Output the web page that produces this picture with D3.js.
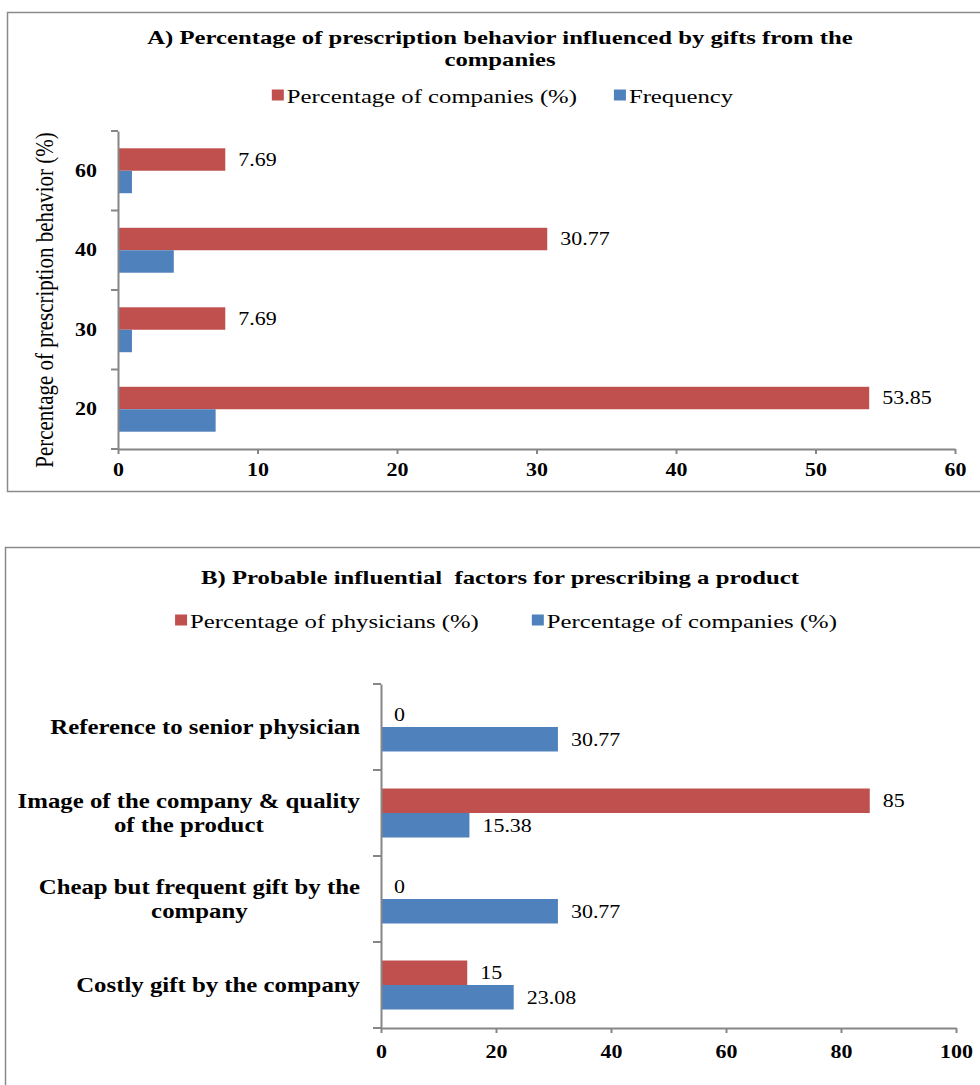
<!DOCTYPE html>
<html>
<head>
<meta charset="utf-8">
<script src="https://cdn.jsdelivr.net/npm/d3@7"></script>
<style>
  body { margin: 0; background: #fff; }
  text { font-family: "Liberation Serif", "Times New Roman", serif; fill: #000; }
</style>
</head>
<body>
<div id="container"></div>
<script>
/* DATA */
// panel A
const behaviorCats = ["60", "40", "30", "20"];
const companiesPctA = [7.69, 30.77, 7.69, 53.85];
const frequencyA = [1, 4, 1, 7];
const xTicksA = [0, 10, 20, 30, 40, 50, 60];
// panel B
const factorLines = [
  ["Reference to senior physician"],
  ["Image of the company & quality", "of the product"],
  ["Cheap but frequent gift by the", "company"],
  ["Costly gift by the company"]
];
const physiciansPctB = [0, 85, 0, 15];
const companiesPctB = [30.77, 15.38, 30.77, 23.08];
const xTicksB = [0, 20, 40, 60, 80, 100];

/* CONSTANTS */
const width = 980;
const height = 1085;
const RED = "#C0504D";
const BLUE = "#4F81BD";
const AXIS = "#868686";
const SX = 1.22; // the reference is stretched sideways, so text is too

const svg = d3.select("#container")
  .append("svg")
  .attr("width", width)
  .attr("height", height)

svg.append("rect").attr("width", width).attr("height", height).attr("fill", "#fff")

// widen text to match the stretched look
function stretch(sel, k, mode) {
  sel.each(function() {
    const l = this.getComputedTextLength()
    d3.select(this).attr("textLength", l * k).attr("lengthAdjust", mode || "spacingAndGlyphs")
  })
}

// legend centred on cx
function legend(g, items, cx, cy, gapItem) {
  const sqW = 12, sqH = 11, gapText = 3
  const lg = g.append("g")
  let x = 0
  items.forEach(it => {
    lg.append("rect").attr("x", x).attr("y", cy - sqH / 2 - 1).attr("width", sqW).attr("height", sqH).attr("fill", it.color)
    const t = lg.append("text").attr("x", x + sqW + gapText).attr("y", cy).attr("dy", "0.35em")
      .style("font-size", "19px").text(it.name)
    const w = t.node().getComputedTextLength()
    stretch(t, 1.3)
    x += sqW + gapText + w * 1.3 + gapItem
  })
  const total = x - gapItem
  lg.attr("transform", `translate(${cx - total / 2},0)`)
}

function bars(g, cats, series, x, y0, y1) {
  cats.forEach((c, i) => {
    series.forEach(s => {
      const v = s.values[i]
      const yy = y0(c) + y1(s.name)
      g.append("rect")
        .attr("x", x(0))
        .attr("y", yy)
        .attr("width", x(v) - x(0))
        .attr("height", y1.bandwidth())
        .attr("fill", s.color)
      if (s.label) {
        const t = g.append("text")
          .attr("x", x(v) + 13)
          .attr("y", yy + y1.bandwidth() / 2)
          .attr("dy", "0.35em")
          .style("font-size", "18px")
          .text(v)
        stretch(t, SX)
      }
    })
  })
}

function styleAxis(a) {
  a.select(".domain").attr("stroke", AXIS).attr("stroke-width", 2)
  a.selectAll(".tick line").attr("stroke", AXIS).attr("stroke-width", 2)
  a.selectAll(".tick text").style("font-size", "18px").style("font-weight", "bold")
    .style("font-family", "'Liberation Serif', serif")
  stretch(a.selectAll(".tick text"), SX)
}

/* PANEL A */
const gA = svg.append("g")
gA.append("rect").attr("x", 7.5).attr("y", 12.5).attr("width", 990).attr("height", 479)
  .attr("fill", "none").attr("stroke", "#8a8a8a").attr("stroke-width", 1.5)

const tA1 = gA.append("text").attr("x", 500).attr("y", 37).attr("dy", "0.35em").attr("text-anchor", "middle")
  .style("font-size", "19px").style("font-weight", "bold")
  .text("A) Percentage of prescription behavior influenced by gifts from the")
const tA2 = gA.append("text").attr("x", 500).attr("y", 59).attr("dy", "0.35em").attr("text-anchor", "middle")
  .style("font-size", "19px").style("font-weight", "bold").text("companies")
stretch(tA1, 1.3); stretch(tA2, 1.3)

legend(gA, [{ name: "Percentage of companies (%)", color: RED }, { name: "Frequency", color: BLUE }], 502.5, 96, 37)

const seriesA = [
  { name: "Percentage of companies (%)", values: companiesPctA, color: RED, label: true },
  { name: "Frequency", values: frequencyA, color: BLUE, label: false }
]

const xA = d3.scaleLinear().domain([0, 60]).range([118, 955])
const yA = d3.scaleBand().domain(behaviorCats).range([131, 449]).padding(0)
const yA1 = d3.scaleBand().domain(seriesA.map(s => s.name)).range([0, yA.bandwidth()]).paddingInner(0).paddingOuter(0.77)

bars(gA, behaviorCats, seriesA, xA, yA, yA1)

const axA = gA.append("g").attr("transform", `translate(0,${yA.range()[1]})`)
  .call(d3.axisBottom(xA).tickValues(xTicksA).tickSize(5).tickSizeOuter(0).tickPadding(9))
styleAxis(axA)

const ayA = gA.append("g").attr("transform", `translate(${xA(0)},0)`)
  .call(d3.axisLeft(yA).tickSize(0).tickPadding(21))
styleAxis(ayA)
// ticks between categories
gA.selectAll("line.bound")
  .data(behaviorCats.map(c => yA(c)).concat([yA.range()[1]]))
  .join("line")
  .attr("x1", xA(0) - 7).attr("x2", xA(0))
  .attr("y1", d => d).attr("y2", d => d)
  .attr("stroke", AXIS).attr("stroke-width", 2)

gA.append("text")
  .attr("transform", `translate(45,${(131 + 449) / 2 + 10}) rotate(-90) scale(1,1.15)`)
  .attr("text-anchor", "middle").attr("dy", "0.35em")
  .style("font-size", "21px")
  .text("Percentage of prescription behavior (%)")

/* PANEL B */
const gB = svg.append("g")
gB.append("rect").attr("x", 5.5).attr("y", 547.5).attr("width", 990).attr("height", 600)
  .attr("fill", "none").attr("stroke", "#8a8a8a").attr("stroke-width", 1.5)

const tB = gB.append("text").attr("x", 500).attr("y", 577).attr("dy", "0.35em").attr("text-anchor", "middle")
  .attr("xml:space", "preserve")
  .style("font-size", "19px").style("font-weight", "bold")
  .text("B) Probable influential  factors for prescribing a product")
stretch(tB, 1.3)

legend(gB, [{ name: "Percentage of physicians (%)", color: RED }, { name: "Percentage of companies (%)", color: BLUE }], 506, 621, 53)

const factorCats = factorLines.map(l => l.join(" "))
const seriesB = [
  { name: "Percentage of physicians (%)", values: physiciansPctB, color: RED, label: true },
  { name: "Percentage of companies (%)", values: companiesPctB, color: BLUE, label: true }
]

const xB = d3.scaleLinear().domain([0, 100]).range([381, 956])
const yB = d3.scaleBand().domain(factorCats).range([684, 1028]).padding(0)
const yB1 = d3.scaleBand().domain(seriesB.map(s => s.name)).range([0, yB.bandwidth()]).paddingInner(0).paddingOuter(0.755)

bars(gB, factorCats, seriesB, xB, yB, yB1)

const axB = gB.append("g").attr("transform", `translate(0,${yB.range()[1]})`)
  .call(d3.axisBottom(xB).tickValues(xTicksB).tickSize(5).tickSizeOuter(0).tickPadding(12))
styleAxis(axB)

const ayB = gB.append("g").attr("transform", `translate(${xB(0)},0)`)
  .call(d3.axisLeft(yB).tickSize(0).tickFormat(""))
styleAxis(ayB)
gB.selectAll("line.bound")
  .data(factorCats.map(c => yB(c)).concat([yB.range()[1]]))
  .join("line")
  .attr("x1", xB(0) - 8).attr("x2", xB(0))
  .attr("y1", d => d).attr("y2", d => d)
  .attr("stroke", AXIS).attr("stroke-width", 2)

// multi-line category labels, block right aligned, lines centred
const LK = 1.24
factorLines.forEach((lines, i) => {
  const cy = yB(factorCats[i]) + yB.bandwidth() / 2
  const lg = gB.append("g")
  const ts = lines.map((l, j) => lg.append("text")
    .attr("y", cy + (j - (lines.length - 1) / 2) * 24)
    .attr("dy", "0.35em")
    .attr("text-anchor", "middle")
    .style("font-size", "20px").style("font-weight", "bold")
    .text(l))
  const w = d3.max(ts, t => t.node().getComputedTextLength()) * LK
  ts.forEach(t => stretch(t, LK))
  ts.forEach(t => t.attr("x", 360 - w / 2))
})
</script>
</body>
</html>
